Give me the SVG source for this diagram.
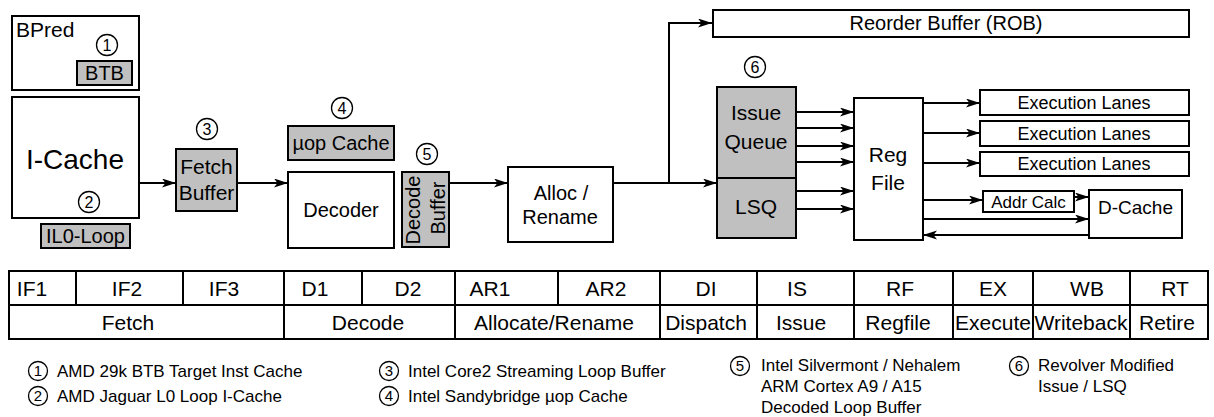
<svg xmlns="http://www.w3.org/2000/svg" width="1214" height="417" viewBox="0 0 1214 417">
<defs>
<marker id="ah" markerUnits="userSpaceOnUse" markerWidth="15" markerHeight="10" refX="14" refY="4.5" orient="auto">
<path d="M0,0 L14,4.5 L0,9 L3.5,4.5 z" fill="#000"/>
</marker>
<style>
text{font-family:"Liberation Sans",Arial,sans-serif;fill:#000}
.box{fill:#fff;stroke:#000;stroke-width:2}
.gbox{fill:#c0c0c0;stroke:#000;stroke-width:2}
.circ{fill:#fff;stroke:#000;stroke-width:1.3}
.num{font-size:16px;text-anchor:middle}
.lnum{font-size:15px;text-anchor:middle}
.c{text-anchor:middle}
.t20{font-size:20px}
.t21{font-size:21px}
.t18{font-size:18px}
.conn{fill:none;stroke:#000;stroke-width:2}
.arr{marker-end:url(#ah)}
.tab{fill:none;stroke:#000;stroke-width:2}
.tt{font-size:21px;text-anchor:middle}
.leg{font-size:17px}
</style>
</defs>
<rect width="1214" height="417" fill="#fff"/>

<g id="connectors">
<path class="conn arr" d="M139,183 L176,183"/>
<path class="conn arr" d="M237,183 L288,183"/>
<path class="conn arr" d="M449,183 L508,183"/>
<path class="conn arr" d="M613,183 L717,183"/>
<path class="conn arr" d="M669,183 L669,23 L712,23"/>
<path class="conn arr" d="M796,112 L854,112"/>
<path class="conn arr" d="M796,128 L854,128"/>
<path class="conn arr" d="M796,146 L854,146"/>
<path class="conn arr" d="M796,162 L854,162"/>
<path class="conn arr" d="M796,191 L854,191"/>
<path class="conn arr" d="M796,209 L854,209"/>
<path class="conn arr" d="M923,103 L980,103"/>
<path class="conn arr" d="M923,133 L980,133"/>
<path class="conn arr" d="M923,163 L980,163"/>
<path class="conn arr" d="M923,200 L983,200"/>
<path class="conn arr" d="M1074,197 L1089,197"/>
<path class="conn arr" d="M923,219 L1089,219"/>
<path class="conn arr" d="M1089,235 L923,235"/>
</g>

<g id="bpred">
<rect class="box" x="12" y="16" width="127" height="74"/>
<text x="16" y="37" class="t21">BPred</text>
<circle class="circ" cx="107" cy="45" r="10.5"/>
<text x="107" y="50.5" class="num">1</text>
</g>
<g id="btb">
<rect class="gbox" x="77" y="61" width="55" height="24"/>
<text x="104.5" y="80" class="c t20">BTB</text>
</g>

<g id="icache">
<rect class="box" x="12" y="97" width="127" height="121"/>
<text x="75" y="169" class="c" font-size="28">I-Cache</text>
<circle class="circ" cx="89" cy="202" r="10.5"/>
<text x="89" y="207.5" class="num">2</text>
</g>
<g id="il0loop">
<rect class="gbox" x="41" y="224" width="89" height="24"/>
<text x="85.5" y="243" class="c t20">IL0-Loop</text>
</g>

<g id="fetchbuffer">
<rect class="gbox" x="176" y="149" width="61" height="62"/>
<text x="206.5" y="174" class="c t21">Fetch</text>
<text x="206.5" y="200" class="c t21">Buffer</text>
<circle class="circ" cx="207" cy="129" r="10.5"/>
<text x="207" y="134.5" class="num">3</text>
</g>

<g id="uopcache">
<rect class="gbox" x="288" y="126" width="106" height="34"/>
<text x="341" y="150" class="c t20">µop Cache</text>
<circle class="circ" cx="342" cy="108" r="10.5"/>
<text x="342" y="113.5" class="num">4</text>
</g>

<g id="decoder">
<rect class="box" x="288" y="172" width="106" height="76"/>
<text x="341" y="217" class="c t20">Decoder</text>
</g>

<g id="decodebuffer">
<rect class="gbox" x="402" y="172" width="47" height="75"/>
<text transform="translate(420,210) rotate(-90)" class="c t20">Decode</text>
<text transform="translate(445,208) rotate(-90)" class="c t20">Buffer</text>
<circle class="circ" cx="427" cy="154" r="10.5"/>
<text x="427" y="159.5" class="num">5</text>
</g>

<g id="alloc">
<rect class="box" x="508" y="167" width="105" height="75"/>
<text x="561" y="200" class="c t20">Alloc /</text>
<text x="560" y="224" class="c t20">Rename</text>
</g>

<g id="rob">
<rect class="box" x="713" y="10" width="476" height="27"/>
<text x="946" y="30" class="c t20">Reorder Buffer (ROB)</text>
</g>

<g id="issuequeue">
<rect class="gbox" x="717" y="87" width="79" height="91"/>
<text x="756" y="120" class="c t21">Issue</text>
<text x="756" y="149" class="c t21">Queue</text>
<circle class="circ" cx="755" cy="67" r="10.5"/>
<text x="755" y="72.5" class="num">6</text>
</g>
<g id="lsq">
<rect class="gbox" x="717" y="178" width="79" height="60"/>
<text x="756" y="214" class="c t21">LSQ</text>
</g>

<g id="regfile">
<rect class="box" x="854" y="98" width="69" height="142"/>
<text x="888" y="162" class="c t21">Reg</text>
<text x="888" y="190" class="c t21">File</text>
</g>

<g id="exec1">
<rect class="box" x="980" y="90" width="209" height="25"/>
<text x="1084" y="109" class="c t18">Execution Lanes</text>
</g>
<g id="exec2">
<rect class="box" x="980" y="121" width="209" height="25"/>
<text x="1084" y="140" class="c t18">Execution Lanes</text>
</g>
<g id="exec3">
<rect class="box" x="980" y="152" width="209" height="24"/>
<text x="1084" y="170" class="c t18">Execution Lanes</text>
</g>

<g id="addrcalc">
<rect class="box" x="983" y="191" width="91" height="21"/>
<text x="1028.5" y="208" class="c" font-size="17">Addr Calc</text>
</g>

<g id="dcache">
<rect class="box" x="1089" y="190" width="93" height="48"/>
<text x="1135.5" y="214" class="c" font-size="19">D-Cache</text>
</g>

<g id="pipeline-table">
<rect class="tab" x="9" y="271" width="1199" height="68"/>
<line class="tab" x1="9" y1="305" x2="1208" y2="305"/>
<path class="tab" d="M76,271 V305 M183,271 V305 M362,271 V305 M558,271 V305 M284,271 V339 M455,271 V339 M660,271 V339 M757,271 V339 M854,271 V339 M953,271 V339 M1033,271 V339 M1130,271 V339"/>
<text class="tt" x="32" y="296">IF1</text>
<text class="tt" x="127" y="296">IF2</text>
<text class="tt" x="224" y="296">IF3</text>
<text class="tt" x="315" y="296">D1</text>
<text class="tt" x="408" y="296">D2</text>
<text class="tt" x="490" y="296">AR1</text>
<text class="tt" x="606" y="296">AR2</text>
<text class="tt" x="706" y="296">DI</text>
<text class="tt" x="797" y="296">IS</text>
<text class="tt" x="900" y="296">RF</text>
<text class="tt" x="993" y="296">EX</text>
<text class="tt" x="1087" y="296">WB</text>
<text class="tt" x="1175" y="296">RT</text>
<text class="tt" x="128" y="330">Fetch</text>
<text class="tt" x="368" y="330">Decode</text>
<text class="tt" x="554" y="330">Allocate/Rename</text>
<text class="tt" x="706" y="330">Dispatch</text>
<text class="tt" x="801" y="330">Issue</text>
<text class="tt" x="898" y="330">Regfile</text>
<text class="tt" x="993" y="330">Execute</text>
<text class="tt" x="1081" y="330">Writeback</text>
<text class="tt" x="1167" y="330">Retire</text>
</g>

<g id="legend">
<circle class="circ" cx="38" cy="371" r="9.5"/><text class="lnum" x="38" y="376">1</text>
<text class="leg" x="57" y="377">AMD 29k BTB Target Inst Cache</text>
<circle class="circ" cx="38" cy="396" r="9.5"/><text class="lnum" x="38" y="401">2</text>
<text class="leg" x="57" y="402">AMD Jaguar L0 Loop I-Cache</text>
<circle class="circ" cx="389" cy="371" r="9.5"/><text class="lnum" x="389" y="376">3</text>
<text class="leg" x="408" y="377">Intel Core2 Streaming Loop Buffer</text>
<circle class="circ" cx="389" cy="396" r="9.5"/><text class="lnum" x="389" y="401">4</text>
<text class="leg" x="408" y="402">Intel Sandybridge µop Cache</text>
<circle class="circ" cx="740" cy="366" r="9.5"/><text class="lnum" x="740" y="371">5</text>
<text class="leg" x="761" y="371">Intel Silvermont / Nehalem</text>
<text class="leg" x="761" y="392">ARM Cortex A9 / A15</text>
<text class="leg" x="761" y="413">Decoded Loop Buffer</text>
<circle class="circ" cx="1019" cy="366" r="9.5"/><text class="lnum" x="1019" y="371">6</text>
<text class="leg" x="1038" y="371">Revolver Modified</text>
<text class="leg" x="1038" y="392">Issue / LSQ</text>
</g>
</svg>
